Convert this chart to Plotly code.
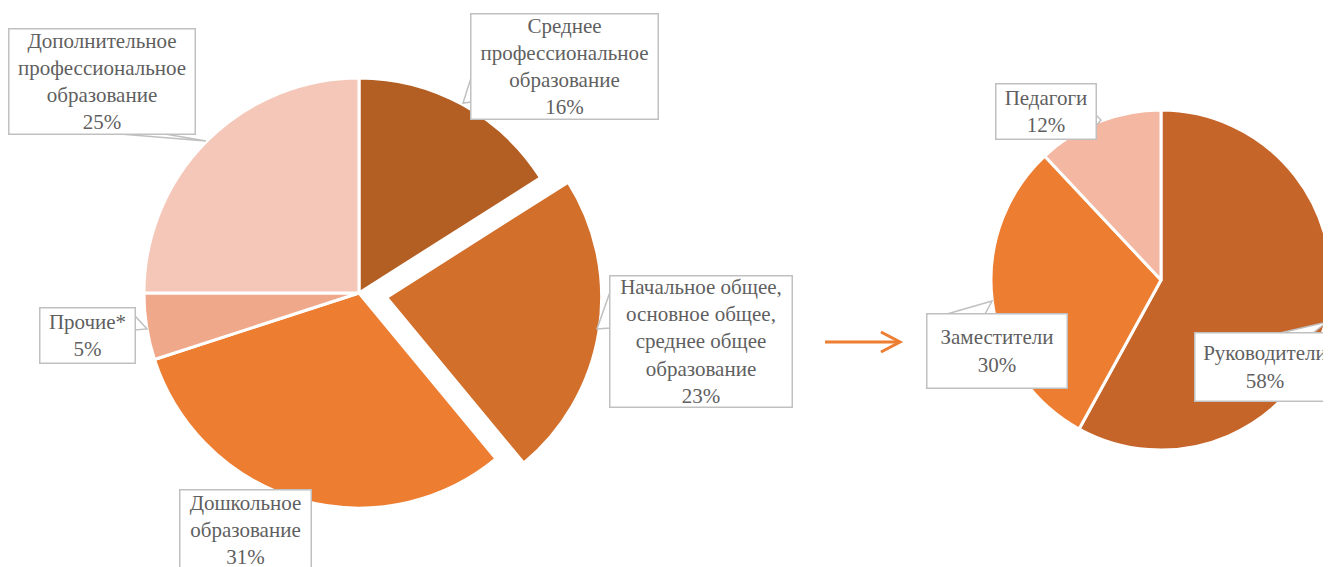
import plotly.graph_objects as go

# page offset of the plot inside the browser (default body margin)
OFF = 8
W, H = 1331 - OFF, 567 - OFF

# ---- data ----
left_labels = ["Среднее профессиональное образование",
               "Начальное общее, основное общее, среднее общее образование",
               "Дошкольное образование", "Прочие*",
               "Дополнительное профессиональное образование"]
left_values = [16, 23, 31, 5, 25]
left_colors = ["#B35E22", "#D16F2B", "#ED7D31", "#F0A88B", "#F4C7B8"]
left_pull = [0, 0.13, 0, 0, 0]

right_labels = ["Руководители", "Заместители", "Педагоги"]
right_values = [58, 30, 12]
right_colors = ["#C5652A", "#ED7D31", "#F4B8A2"]

left_text = ["Среднее<br>профессиональное<br>образование",
             "Начальное общее,<br>основное общее,<br>среднее общее<br>образование",
             "Дошкольное<br>образование", "Прочие*",
             "Дополнительное<br>профессиональное<br>образование"]
right_text = ["Руководители", "Заместители", "Педагоги"]


def X(px):
    return (px - OFF) / W


def Y(py):
    return 1 - (py - OFF) / H


fig = go.Figure()
fig.add_trace(go.Pie(
    labels=left_labels, values=left_values, sort=False, direction="clockwise",
    rotation=0, pull=left_pull, textinfo="none", hoverinfo="label+percent",
    marker=dict(colors=left_colors, line=dict(color="white", width=3)),
    domain=dict(x=[X(116), X(602)], y=[Y(536), Y(50)]), showlegend=False))
fig.add_trace(go.Pie(
    labels=right_labels, values=right_values, sort=False, direction="clockwise",
    rotation=0, textinfo="none", hoverinfo="label+percent",
    marker=dict(colors=right_colors, line=dict(color="white", width=3)),
    domain=dict(x=[X(991), X(1331)], y=[Y(450), Y(110)]), showlegend=False))

font = dict(family="Liberation Serif", size=21, color="#5F5F5F")
border = "#C0C0C0"

left_boxes = [(564.5, 66.5, 189, 107), (701, 341.5, 184, 133),
              (245.5, 530, 133, 82), (87.5, 335.5, 97, 57), (102, 81.5, 188, 107)]
right_boxes = [(1265, 367, 142, 70), (997, 351, 142, 76), (1046, 111.5, 102, 57)]

tails = [
    [(120, 134), (165, 134), (206, 141)],
    [(471, 78), (471, 102), (463, 103)],
    [(610, 292), (610, 328), (597, 329)],
    [(135, 316), (135, 330), (147, 329)],
    [(1096, 115), (1096, 126), (1101, 120)],
    [(947, 314), (985, 314), (992, 301)],
    [(1280, 333), (1313, 333), (1327, 322)],
]
for t in tails:
    path = "M " + " L ".join(f"{X(a)},{Y(b)}" for a, b in t) + " Z"
    fig.add_shape(type="path", path=path, xref="paper", yref="paper",
                  line=dict(color=border, width=1.5), fillcolor="white", layer="above")

for txt, val, (cx, cy, w, h) in zip(left_text + right_text,
                                    left_values + right_values,
                                    left_boxes + right_boxes):
    fig.add_annotation(x=X(cx), y=Y(cy), xref="paper", yref="paper",
                       text=f"{txt}<br>{val}%", showarrow=False,
                       xanchor="center", yanchor="middle", align="center",
                       width=w - 3, height=h - 3, borderpad=0,
                       bordercolor=border, borderwidth=1.5, bgcolor="white",
                       font=font)

orange = "#ED7D31"
fig.add_shape(type="line", xref="paper", yref="paper", x0=X(825), y0=Y(342),
              x1=X(899), y1=Y(342), line=dict(color=orange, width=3))
fig.add_shape(type="path", xref="paper", yref="paper",
              path=f"M {X(881)},{Y(332)} L {X(900)},{Y(342)} L {X(881)},{Y(352)}",
              line=dict(color=orange, width=3))

fig.update_layout(width=W, height=H, margin=dict(l=0, r=0, t=0, b=0),
                  paper_bgcolor="white", plot_bgcolor="white")
fig.write_html("out.html")
